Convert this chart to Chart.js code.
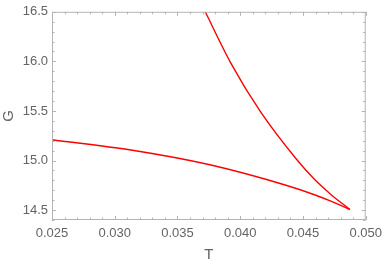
<!DOCTYPE html>
<html>
<head>
<meta charset="utf-8">
<script src="https://cdn.jsdelivr.net/npm/chart.js@4"></script>
<style>
  html, body { margin: 0; padding: 0; background: #fff; }
  #wrap { width: 388px; height: 264px; }
</style>
</head>
<body>
<div id="wrap"><canvas id="plot"></canvas></div>
<script>
// lower branch
const lowerT = [0.025, 0.03129, 0.03758, 0.04371, 0.04591, 0.04722, 0.04874];
const lowerG = [15.21, 15.106, 14.957, 14.748, 14.655, 14.59, 14.506];
// upper branch (sorted by T, ends at the cusp)
const upperT = [0.03721, 0.03925, 0.04161, 0.0445, 0.04591, 0.04722, 0.04874];
const upperG = [16.5, 15.983, 15.493, 15.01, 14.81, 14.658, 14.506];

const xTicks = [0.025, 0.030, 0.035, 0.040, 0.045, 0.050];
const yTicks = [14.5, 15.0, 15.5, 16.0, 16.5];

const toPts = (xs, ys) => xs.map((x, i) => ({ x: x, y: ys[i] }));

const frameColor = "#b4b4b4";
const labelColor = "#646464";

// mathematica-ish frame with inward ticks on all four sides
const framePlugin = {
  id: "frame",
  afterDraw(chart) {
    const ctx = chart.ctx;
    const a = chart.chartArea;
    const xs = chart.scales.x;
    const ys = chart.scales.y;
    ctx.save();
    ctx.strokeStyle = frameColor;
    ctx.lineWidth = 1;
    ctx.strokeRect(a.left + 0.5, a.top + 0.5, a.right - a.left - 1, a.bottom - a.top - 1);
    ctx.beginPath();
    for (let i = 0; i <= 25; i++) {
      const v = 0.025 + i * 0.001;
      const px = Math.round(xs.getPixelForValue(v)) + 0.5;
      const len = i % 5 === 0 ? 4 : 2.5;
      ctx.moveTo(px, a.bottom); ctx.lineTo(px, a.bottom - len);
      ctx.moveTo(px, a.top); ctx.lineTo(px, a.top + len);
    }
    for (let i = 0; i <= 21; i++) {
      const v = 14.4 + i * 0.1;
      const py = Math.round(ys.getPixelForValue(v)) + 0.5;
      const len = (i - 1) % 5 === 0 ? 4 : 2.5;
      ctx.moveTo(a.left, py); ctx.lineTo(a.left + len, py);
      ctx.moveTo(a.right, py); ctx.lineTo(a.right - len, py);
    }
    ctx.stroke();
    ctx.restore();
  },
};

const makeGraph = () => {
  const chart_ctx = document.getElementById("plot");
  const data = {
    datasets: [
      {
        label: "lower",
        data: toPts(lowerT, lowerG),
        borderColor: "#ff0000",
        borderWidth: 1.4,
        showLine: true,
        pointRadius: 0,
        cubicInterpolationMode: "monotone",
      },
      {
        label: "upper",
        data: toPts(upperT, upperG),
        borderColor: "#ff0000",
        borderWidth: 1.4,
        showLine: true,
        pointRadius: 0,
        cubicInterpolationMode: "monotone",
      },
    ],
  };
  const config = {
    type: "scatter",
    data,
    options: {
      responsive: false,
      animation: false,
      layout: { padding: { top: 8, right: 18, left: 0, bottom: 0 } },
      plugins: { legend: { display: false }, tooltip: { enabled: false } },
      scales: {
        x: {
          type: "linear",
          min: 0.025,
          max: 0.050,
          afterBuildTicks: (s) => { s.ticks = xTicks.map((v) => ({ value: v })); },
          afterFit: (s) => { s.height = 44; },
          grid: { display: false, drawTicks: false },
          border: { display: false },
          ticks: {
            color: labelColor,
            font: { family: "Liberation Sans", size: 13 },
            padding: 6,
            maxRotation: 0,
            callback: (v) => v.toFixed(3),
          },
          title: {
            display: true,
            text: "T",
            color: labelColor,
            font: { family: "Liberation Sans", size: 15 },
            padding: { top: 2, bottom: 0 },
          },
        },
        y: {
          type: "linear",
          min: 14.4,
          max: 16.5,
          afterBuildTicks: (s) => { s.ticks = yTicks.map((v) => ({ value: v })); },
          afterFit: (s) => { s.width = 52; },
          grid: { display: false, drawTicks: false },
          border: { display: false },
          ticks: {
            color: labelColor,
            font: { family: "Liberation Sans", size: 13 },
            padding: 4,
            callback: (v) => v.toFixed(1),
          },
          title: {
            display: true,
            text: "G",
            color: labelColor,
            font: { family: "Liberation Sans", size: 15 },
            padding: { top: 0, bottom: 6 },
          },
        },
      },
    },
    plugins: [framePlugin],
  };
  const c = document.getElementById("plot");
  c.width = 388;
  c.height = 264;
  return new Chart(chart_ctx, config);
};

makeGraph();
</script>
</body>
</html>
